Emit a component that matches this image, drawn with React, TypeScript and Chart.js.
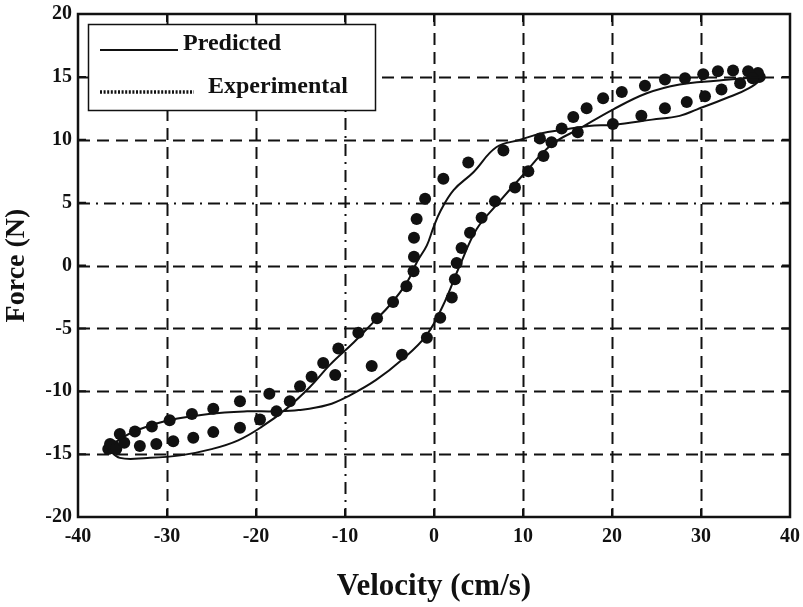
import React, { useEffect, useRef } from "react";
import { Chart, registerables } from "chart.js";

Chart.register(...registerables);

const xTicks = [-40, -30, -20, -10, 0, 10, 20, 30, 40];
const yTicks = [-20, -15, -10, -5, 0, 5, 10, 15, 20];
const dashDotX = [-10];
const dashDotY = [5];

const xTitle = "Velocity (cm/s)";
const yTitle = "Force (N)";
const legendLabels = ["Predicted", "Experimental"];

// Predicted hysteresis loop (closed path)
const predictedVelocity = [
  -36.6, -35.3, -33, -29.8, -25.3, -21, -18, -15.2, -12, -9.4, -6.5, -3.6, -0.9, 1.0, 2.9, 4.8, 7.0, 10.0, 13.2,
  16.4, 20.1, 23.9, 27.6, 31.7, 35, 36.7,
  35.4, 32.8, 29.5, 27.6, 24.5, 20.1, 17.4, 14.5, 12, 9.7, 7.0, 4.4, 2.2, 0.7, -0.1, -0.8, -1.9, -3.0, -4.9, -6.8,
  -9.0, -11.7, -14, -16.6, -19.3, -22, -25, -28.5, -32.2, -35.3, -36.6,
];
const predictedForce = [
  -14.6, -13.8, -13.0, -12.3, -11.8, -11.6, -11.6, -11.5, -11.1, -10.3, -9.1, -7.5, -5.6, -3.2, 0.0, 2.9, 4.8, 7.2, 9.6,
  10.9, 12.4, 13.7, 14.4, 14.7, 14.9, 14.9,
  14.1, 13.3, 12.4, 11.9, 11.6, 11.2, 11.1, 10.8, 10.5, 10.0, 9.4, 7.4, 6.0, 4.3, 2.95, 1.6, 0.3, -1.3, -3.1, -4.5,
  -6.1, -7.9, -9.7, -11.4, -12.8, -13.9, -14.6, -15.1, -15.3, -15.3, -14.6,
];

// Experimental points
const experimentalVelocity = [
  36.6, 36.4, 35.3, 33.6, 31.9, 30.25, 28.2, 25.95, 23.7, 21.1, 19.0, 17.15, 15.65, 14.35, 13.2, 11.9, 7.8,
  3.85, 1.05, -1.0, -1.95, -2.25, -2.25, -2.3, -3.1, -4.6, -6.4, -8.5, -10.75, -12.45, -13.75, -15.05, -16.2, -17.7,
  -19.55, -21.8, -24.8, -27.05, -29.3, -31.2, -33.05, -36.0, -36.6, -36.4, -35.7, -34.8,
  -35.3, -33.6, -31.7, -29.7, -27.2, -24.8, -21.8, -18.5, -11.1, -7.0, -3.6, -0.8, 0.7, 2.0, 2.35, 2.55, 3.1, 4.05,
  5.35, 6.85, 9.1, 10.6, 12.3, 16.15, 20.1, 23.3, 25.95, 28.4, 30.45, 32.3, 34.4, 35.8,
];
const experimentalForce = [
  15.0, 15.3, 15.45, 15.5, 15.45, 15.2, 14.9, 14.8, 14.3, 13.8, 13.3, 12.5, 11.8, 10.9, 9.8, 10.1, 9.15,
  8.2, 6.9, 5.3, 3.7, 2.2, 0.7, -0.45, -1.65, -2.9, -4.2, -5.35, -6.6, -7.75, -8.85, -9.6, -10.8, -11.6,
  -12.25, -12.9, -13.25, -13.7, -13.97, -14.2, -14.35, -14.35, -14.6, -14.2, -14.6, -14.1,
  -13.4, -13.2, -12.8, -12.3, -11.8, -11.4, -10.8, -10.2, -8.7, -8.0, -7.1, -5.75, -4.15, -2.55, -1.1, 0.2, 1.4, 2.6,
  3.8, 5.1, 6.2, 7.5, 8.7, 10.6, 11.25, 11.9, 12.5, 13.0, 13.45, 14.0, 14.5, 14.9,
];

const FONT = '"Liberation Serif", "Times New Roman", serif';
const INK = "#111";

const framePlugin = {
  id: "frameGrid",
  beforeDatasetsDraw(chart: any) {
    const { ctx, chartArea, scales } = chart;
    const { left, right, top, bottom } = chartArea;
    const xs = scales.x;
    const ys = scales.y;
    ctx.save();
    ctx.strokeStyle = INK;
    ctx.lineWidth = 2;
    xTicks.forEach((v) => {
      if (v === xTicks[0] || v === xTicks[xTicks.length - 1]) return;
      const px = Math.round(xs.getPixelForValue(v)) + 0.5;
      ctx.setLineDash(dashDotX.includes(v) ? [12, 6, 2, 6] : [12, 7]);
      ctx.beginPath();
      ctx.moveTo(px, top);
      ctx.lineTo(px, bottom);
      ctx.stroke();
    });
    yTicks.forEach((v) => {
      if (v === yTicks[0] || v === yTicks[yTicks.length - 1]) return;
      const py = Math.round(ys.getPixelForValue(v)) + 0.5;
      ctx.setLineDash(dashDotY.includes(v) ? [12, 6, 2, 6] : [12, 7]);
      ctx.beginPath();
      ctx.moveTo(left, py);
      ctx.lineTo(right, py);
      ctx.stroke();
    });
    ctx.setLineDash([]);
    ctx.lineWidth = 2;
    const tl = 8;
    xTicks.forEach((v) => {
      const px = xs.getPixelForValue(v);
      ctx.beginPath();
      ctx.moveTo(px, top);
      ctx.lineTo(px, top + tl);
      ctx.moveTo(px, bottom);
      ctx.lineTo(px, bottom - tl);
      ctx.stroke();
    });
    yTicks.forEach((v) => {
      const py = ys.getPixelForValue(v);
      ctx.beginPath();
      ctx.moveTo(left, py);
      ctx.lineTo(left + tl, py);
      ctx.moveTo(right, py);
      ctx.lineTo(right - tl, py);
      ctx.stroke();
    });
    ctx.lineWidth = 2.5;
    ctx.strokeRect(left, top, right - left, bottom - top);
    ctx.restore();
  },
  afterDraw(chart: any) {
    const { ctx, chartArea } = chart;
    const bx = chartArea.left + 10;
    const by = chartArea.top + 10;
    const bw = 287;
    const bh = 86;
    ctx.save();
    ctx.fillStyle = "#fff";
    ctx.fillRect(bx, by, bw, bh);
    ctx.strokeStyle = INK;
    ctx.lineWidth = 1.5;
    ctx.strokeRect(bx + 0.5, by + 0.5, bw, bh);
    ctx.lineWidth = 2;
    ctx.beginPath();
    ctx.moveTo(bx + 12, by + 26);
    ctx.lineTo(bx + 90, by + 26);
    ctx.stroke();
    ctx.lineWidth = 3.5;
    ctx.setLineDash([2, 1.6]);
    ctx.beginPath();
    ctx.moveTo(bx + 12, by + 68);
    ctx.lineTo(bx + 106, by + 68);
    ctx.stroke();
    ctx.setLineDash([]);
    ctx.fillStyle = INK;
    ctx.font = `bold 24px ${FONT}`;
    ctx.textBaseline = "alphabetic";
    ctx.textAlign = "left";
    ctx.fillText(legendLabels[0], bx + 95, by + 26);
    ctx.fillText(legendLabels[1], bx + 120, by + 69);
    ctx.restore();
  },
};

export default function App() {
  const ref = useRef<HTMLCanvasElement | null>(null);
  useEffect(() => {
    if (!ref.current) return;
    const predicted = predictedVelocity.map((v, i) => ({ x: v, y: predictedForce[i] }));
    const experimental = experimentalVelocity.map((v, i) => ({ x: v, y: experimentalForce[i] }));
    const chart = new Chart(ref.current, {
      type: "scatter",
      data: {
        datasets: [
          {
            label: legendLabels[0],
            data: predicted,
            showLine: true,
            tension: 0.4,
            borderColor: INK,
            borderWidth: 2,
            pointRadius: 0,
            fill: false,
          },
          {
            label: legendLabels[1],
            data: experimental,
            showLine: false,
            pointRadius: 6,
            pointBackgroundColor: INK,
            pointBorderColor: INK,
            pointBorderWidth: 0,
          },
        ],
      },
      options: {
        animation: false,
        responsive: false,
        events: [],
        layout: { padding: { top: 14, right: 13, left: 0, bottom: 0 } },
        plugins: { legend: { display: false }, tooltip: { enabled: false } },
        scales: {
          x: {
            type: "linear",
            min: -40,
            max: 40,
            afterBuildTicks: (s: any) => {
              s.ticks = xTicks.map((v) => ({ value: v }));
            },
            afterFit: (s: any) => {
              s.height = 90;
              s.paddingLeft = 0;
              s.paddingRight = 0;
            },
            grid: { display: false, drawTicks: false },
            border: { display: false },
            ticks: {
              padding: 8,
              color: INK,
              font: { family: FONT, size: 20, weight: "bold" },
              maxRotation: 0,
            },
            title: {
              display: true,
              text: xTitle,
              color: INK,
              font: { family: FONT, size: 31, weight: "bold" },
              padding: { top: 0, bottom: 1 },
            },
          },
          y: {
            type: "linear",
            min: -20,
            max: 20,
            afterBuildTicks: (s: any) => {
              s.ticks = yTicks.map((v) => ({ value: v }));
            },
            afterFit: (s: any) => {
              s.width = 78;
              s.paddingTop = 0;
              s.paddingBottom = 0;
            },
            grid: { display: false, drawTicks: false },
            border: { display: false },
            ticks: {
              padding: 6,
              color: INK,
              font: { family: FONT, size: 20, weight: "bold" },
            },
            title: {
              display: true,
              text: yTitle,
              color: INK,
              font: { family: FONT, size: 28, weight: "bold" },
              padding: { top: 0, bottom: 6 },
            },
          },
        },
      },
      plugins: [framePlugin],
    });
    return () => chart.destroy();
  }, []);
  return (
    <div style={{ position: "absolute", left: 0, top: 0, width: 803, height: 607, background: "#fff" }}>
      <canvas ref={ref} width={803} height={607} style={{ width: 803, height: 607 }} />
    </div>
  );
}
